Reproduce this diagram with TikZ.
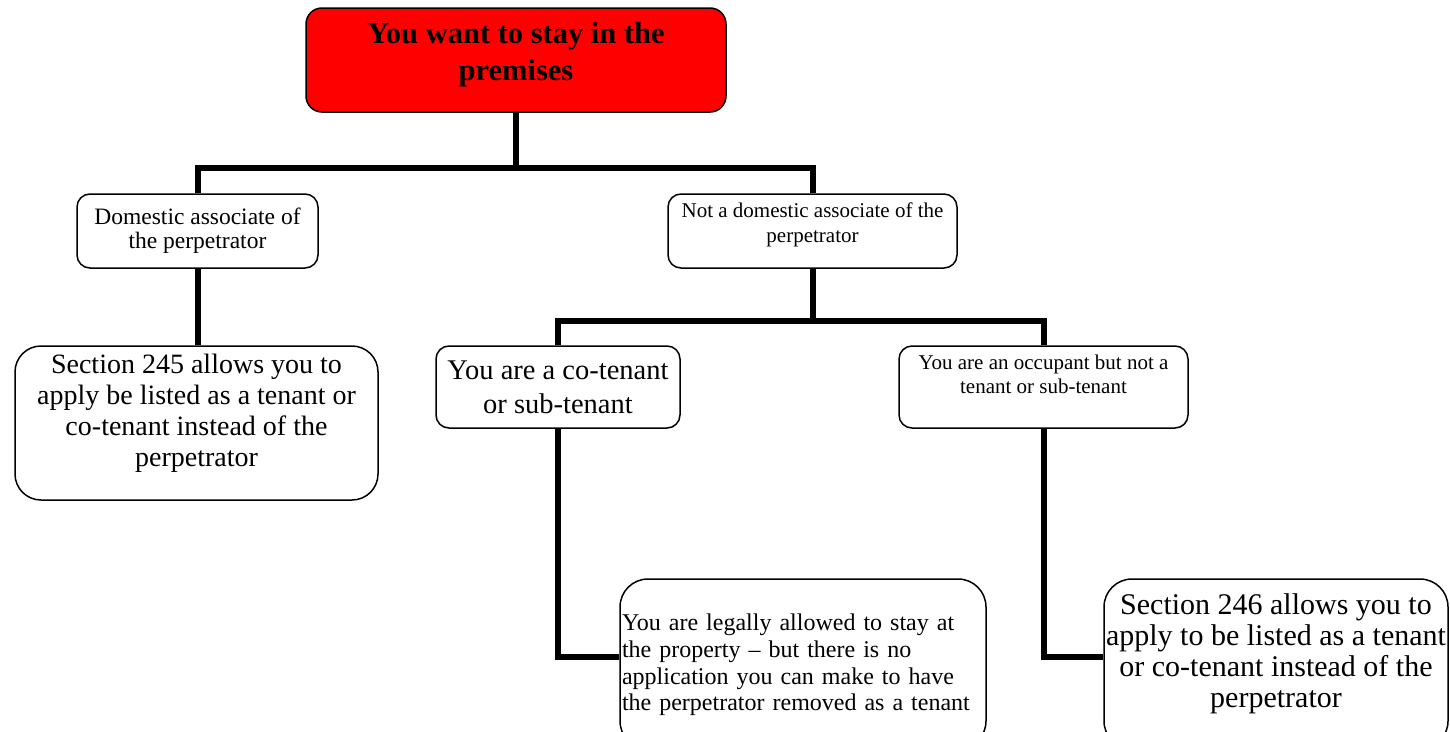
\documentclass[tikz,border=0pt]{standalone}
\usepackage{fontspec}
\setmainfont{Liberation Serif}
\tikzset{
  box/.style={draw, rectangle, rounded corners=13pt, line width=1.5pt, align=center, inner sep=0pt},
  wire/.style={line width=6pt},
}
\begin{document}
\begin{tikzpicture}[x=1pt, y=-1pt]
\useasboundingbox (0,0) rectangle (1450,731);
\clip (0,0) rectangle (1450,731);

\node[box, fill=red, rounded corners=16pt, minimum width=420pt, minimum height=104pt, text depth=17pt, font=\fontsize{30.5}{37}\selectfont\bfseries] (stay) at (516,60) {You want to stay in the\\premises};
\node[box, minimum width=241pt, minimum height=74pt, font=\fontsize{23.5}{24}\selectfont] (dom) at (197.5,231) {Domestic associate of\\the perpetrator};
\node[box, minimum width=289pt, minimum height=74pt, text depth=16pt, font=\fontsize{21}{25}\selectfont] (notdom) at (812.5,231) {Not a domestic associate of the\\perpetrator};
\node[box, rounded corners=26pt, minimum width=363pt, minimum height=154pt, text depth=26pt, font=\fontsize{28}{31}\selectfont] (sec245) at (196.5,423) {Section 245 allows you to\\apply be listed as a tenant or\\co-tenant instead of the\\perpetrator};
\node[box, minimum width=244pt, minimum height=82pt, font=\fontsize{28.5}{34}\selectfont] (cotenant) at (558,387) {You are a co-tenant\\or sub-tenant};
\node[box, minimum width=289pt, minimum height=82pt, text depth=25pt, font=\fontsize{21}{24}\selectfont] (occupant) at (1043.5,387) {You are an occupant but not a\\tenant or sub-tenant};
\node[box, rounded corners=28pt, minimum width=366pt, minimum height=170pt, text width=362pt, align=left, text depth=83pt, font=\fontsize{24}{26.7}\selectfont] (legal) at (803,664) {You are legally allowed to stay at\\the property -- but there is no\\application you can make to have\\the perpetrator removed as a tenant};
\node[box, rounded corners=28pt, minimum width=344pt, minimum height=170pt, text depth=26pt, font=\fontsize{30}{31}\selectfont] (sec246) at (1276,664) {Section 246 allows you to\\apply to be listed as a tenant\\or co-tenant instead of the\\perpetrator};

\coordinate (split) at (516,168);
\coordinate (split2) at (812.5,321);

\draw[wire] (stay) -- (split) -| (dom);
\draw[wire] (split) -| (notdom);
\draw[wire] (dom) -- (dom |- sec245.north);
\draw[wire] (notdom) -- (split2) -| (cotenant);
\draw[wire] (split2) -| (occupant);
\draw[wire] (cotenant) |- ([yshift=7pt]legal.west);
\draw[wire] (occupant) |- ([yshift=7pt]sec246.west);
\end{tikzpicture}
\end{document}
